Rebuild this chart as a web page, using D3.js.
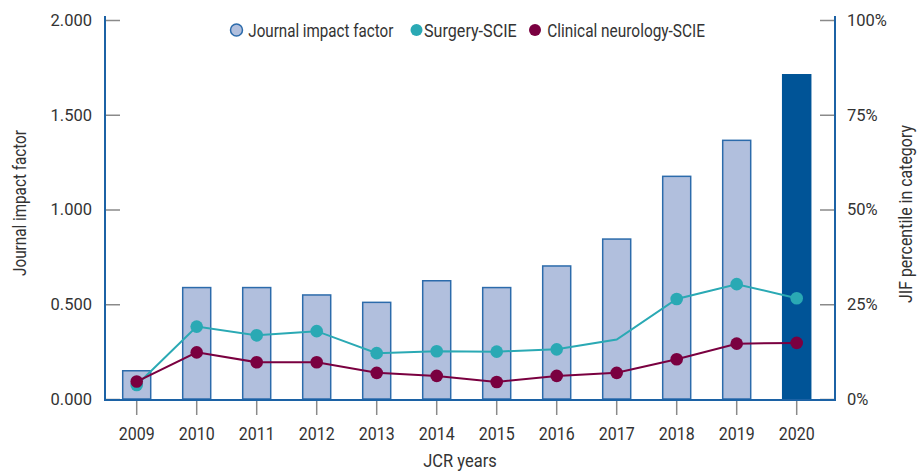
<!DOCTYPE html>
<html>
<head>
<meta charset="utf-8">
<script src="https://cdn.jsdelivr.net/npm/d3@7"></script>
<style>
	body { margin: 0; background: #fff; }
	svg text { font-family: Roboto, "Liberation Sans", sans-serif; fill: #333; }
</style>
</head>
<body>
<div id="chartDiv"></div>
<script>
;(function() {

	var width = 918;
	var height = 471;

	// data
	var years = ["2009", "2010", "2011", "2012", "2013", "2014", "2015", "2016", "2017", "2018", "2019", "2020"];
	var impactFactor = [0.149, 0.588, 0.588, 0.549, 0.510, 0.624, 0.588, 0.702, 0.844, 1.175, 1.365, 1.711];
	var surgeryPct = [3.7, 19.1, 16.8, 17.9, 12.1, 12.6, 12.5, 13.1, 15.7, 26.4, 30.3, 26.6];
	var surgeryDot = [true, true, true, true, true, true, true, true, false, true, true, true];
	var neurologyPct = [4.6, 12.3, 9.7, 9.7, 6.9, 6.1, 4.5, 6.1, 6.9, 10.5, 14.6, 14.8];
	var leftTicks = [0, 0.5, 1.0, 1.5, 2.0];
	var rightTicks = [0, 25, 50, 75, 100];
	var legendLabels = ["Journal impact factor", "Surgery-SCIE", "Clinical neurology-SCIE"];

	var axisBlue = "#1c62a5";
	var barFill = "#b1bfdd";
	var barStroke = "#2c6bab";
	var lastBarFill = "#005497";
	var teal = "#2aa9b4";
	var maroon = "#7a0040";
	var tickGray = "#8a8a8a";

	var plot = { left: 105, right: 835, top: 16, bottom: 400 };

	var svg = d3.select("#chartDiv").append("svg")
		.attr("width", width)
		.attr("height", height);

	// the reference uses a condensed face; squeeze Roboto to the measured width
	function squeeze(sel, target) {
		sel.each(function() {
			var len = this.getComputedTextLength();
			var w = target < 1.5 ? len * target : target;
			d3.select(this).attr("textLength", w).attr("lengthAdjust", "spacingAndGlyphs");
		});
	}

	var xScale = d3.scaleBand()
		.domain(years)
		.range([106.7, 826.7])
		.paddingInner(0.5333)
		.paddingOuter(0.2667);

	var yScale = d3.scaleLinear().domain([0, 2]).range([399, 20]);
	var pScale = d3.scaleLinear().domain([0, 100]).range([399, 20]);

	var table = years.map(function(y, i) {
		return { year: y, jif: impactFactor[i], surg: surgeryPct[i], surgDot: surgeryDot[i], neuro: neurologyPct[i], last: i === years.length - 1 };
	});

	// bars
	svg.append("g").selectAll("rect").data(table).enter().append("rect")
		.attr("x", function(d) { return xScale(d.year); })
		.attr("y", function(d) { return yScale(d.jif); })
		.attr("width", xScale.bandwidth())
		.attr("height", function(d) { return yScale(0) - yScale(d.jif); })
		.attr("fill", function(d) { return d.last ? lastBarFill : barFill; })
		.attr("stroke", function(d) { return d.last ? lastBarFill : barStroke; })
		.attr("stroke-width", 1.5);

	// left axis
	var yAxis = d3.axisRight(yScale)
		.tickValues(leftTicks)
		.tickSize(15)
		.tickFormat(d3.format(".3f"));
	var yg = svg.append("g")
		.attr("transform", "translate(" + plot.left + ",0)")
		.call(yAxis);
	yg.select(".domain").remove();
	yg.selectAll(".tick line").attr("stroke", tickGray).attr("stroke-width", 1.5);
	yg.selectAll(".tick text")
		.attr("x", -13)
		.attr("text-anchor", "end")
		.style("font-size", "16.5px");

	// right axis
	var pAxis = d3.axisLeft(pScale)
		.tickValues(rightTicks)
		.tickSize(15)
		.tickFormat(function(d) { return d + "%"; });
	var pg = svg.append("g")
		.attr("transform", "translate(" + plot.right + ",0)")
		.call(pAxis);
	pg.select(".domain").remove();
	pg.selectAll(".tick line").attr("stroke", tickGray).attr("stroke-width", 1.5);
	pg.selectAll(".tick text")
		.attr("x", 12)
		.attr("text-anchor", "start")
		.style("font-size", "16.5px");

	// bottom axis
	var xAxis = d3.axisBottom(xScale).tickSize(15).tickPadding(0);
	var xg = svg.append("g")
		.attr("transform", "translate(0," + plot.bottom + ")")
		.call(xAxis);
	xg.select(".domain").remove();
	xg.selectAll(".tick line").attr("stroke", tickGray).attr("stroke-width", 1.5);
	xg.selectAll(".tick text")
		.attr("y", 39.5)
		.attr("dy", null)
		.style("font-size", "19px")
		.call(squeeze, 0.84);

	// frame lines (left, bottom, right)
	svg.append("path")
		.attr("d", "M" + plot.left + "," + plot.top + "V" + plot.bottom + "H" + plot.right + "V" + plot.top)
		.attr("fill", "none")
		.attr("stroke", axisBlue)
		.attr("stroke-width", 2);

	// lines
	function drawSeries(key, color, dotKey) {
		var line = d3.line()
			.x(function(d) { return xScale(d.year) + xScale.bandwidth() / 2; })
			.y(function(d) { return pScale(d[key]); });
		svg.append("path")
			.datum(table)
			.attr("d", line)
			.attr("fill", "none")
			.attr("stroke", color)
			.attr("stroke-width", 2);
		svg.append("g").selectAll("circle")
			.data(table.filter(function(d) { return dotKey ? d[dotKey] : true; }))
			.enter().append("circle")
			.attr("cx", function(d) { return xScale(d.year) + xScale.bandwidth() / 2; })
			.attr("cy", function(d) { return pScale(d[key]); })
			.attr("r", 6.3)
			.attr("fill", color);
	}
	drawSeries("surg", teal, "surgDot");
	drawSeries("neuro", maroon, null);

	// axis titles
	svg.append("text")
		.attr("text-anchor", "middle")
		.attr("transform", "translate(26,203) rotate(-90)")
		.style("font-size", "18.5px")
		.text("Journal impact factor")
		.call(squeeze, 146);

	svg.append("text")
		.attr("text-anchor", "middle")
		.attr("transform", "translate(912,214) rotate(-90)")
		.style("font-size", "18.5px")
		.text("JIF percentile in category")
		.call(squeeze, 178);

	svg.append("text")
		.attr("text-anchor", "middle")
		.attr("x", 460)
		.attr("y", 467)
		.style("font-size", "18.5px")
		.text("JCR years")
		.call(squeeze, 73.5);

	// legend
	var legend = [
		{ label: legendLabels[0], cx: 236.5, tx: 248.3, w: 145, fill: barFill, stroke: barStroke },
		{ label: legendLabels[1], cx: 416.5, tx: 424, w: 92.7, fill: teal, stroke: "none" },
		{ label: legendLabels[2], cx: 535, tx: 547.3, w: 157.7, fill: maroon, stroke: "none" }
	];
	var lg = svg.append("g").selectAll("g").data(legend).enter().append("g");
	lg.append("circle")
		.attr("cx", function(d) { return d.cx; })
		.attr("cy", 30)
		.attr("r", 6)
		.attr("fill", function(d) { return d.fill; })
		.attr("stroke", function(d) { return d.stroke; })
		.attr("stroke-width", 1.5);
	lg.append("text")
		.attr("x", function(d) { return d.tx; })
		.attr("y", 36.5)
		.style("font-size", "18.5px")
		.text(function(d) { return d.label; })
		.each(function(d) { d3.select(this).call(squeeze, d.w); });

})();
</script>
</body>
</html>
